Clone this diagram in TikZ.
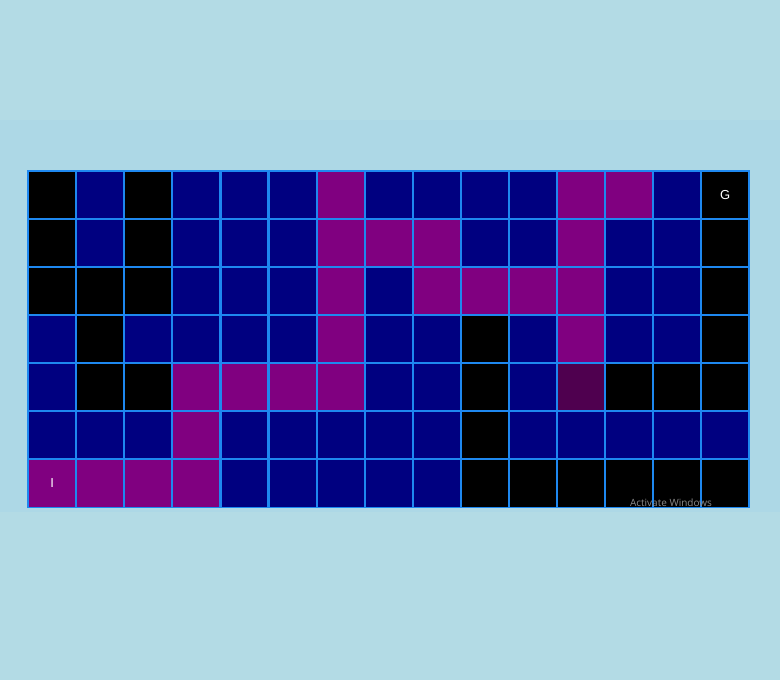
\documentclass[tikz,border=0pt]{standalone}
\usepackage{fontspec}
\setmainfont{Liberation Sans}
\newfontfamily\wmfont{Open Sans}
\definecolor{bandlight}{HTML}{B3DBE5}
\definecolor{bandmid}{HTML}{ADD8E6}
\definecolor{gridline}{HTML}{1E88F0}
\definecolor{cN}{HTML}{000080}
\definecolor{cP}{HTML}{800080}
\definecolor{cB}{HTML}{000000}
\definecolor{cD}{HTML}{4F004F}
\definecolor{wm}{HTML}{8C8C8C}
\begin{document}
\begin{tikzpicture}[x=1pt,y=-1pt,
  cell/.style={minimum width=48pt,minimum height=48pt,inner sep=0pt,anchor=north west},
  gridrule/.style={draw=gridline,line width=1.8pt},
  lbl/.style={text=white,font=\fontsize{13}{13}\selectfont}]
\useasboundingbox (0,0) rectangle (780,680);
\fill[bandlight] (0,0) rectangle (780,680);
\fill[bandmid] (0,120) rectangle (780,512);
\foreach \row [count=\r from 0] in {
  {B,N,B,N,N,N,P,N,N,N,N,P,P,N,B},
  {B,N,B,N,N,N,P,P,P,N,N,P,N,N,B},
  {B,B,B,N,N,N,P,N,P,P,P,P,N,N,B},
  {N,B,N,N,N,N,P,N,N,B,N,P,N,N,B},
  {N,B,B,P,P,P,P,N,N,B,N,D,B,B,B},
  {N,N,N,P,N,N,N,N,N,B,N,N,N,N,N},
  {P,P,P,P,N,N,N,N,N,B,B,B,B,B,B}}{
  \foreach \c [count=\k from 0] in \row {
    \node[cell,fill=c\c] (g-\r-\k) at ({28+48.07*\k},{171+48*\r}) {};
  }
}
\foreach \r in {0,...,6}{
  \foreach \k in {0,...,14}{
    \draw[gridrule] (g-\r-\k.north west) rectangle (g-\r-\k.south east);
  }
}
\node[lbl] (goal) at (g-0-14.center) {G};
\node[lbl] (init) at (g-6-0.center) {I};
\node[text=wm,font=\wmfont\fontsize{10}{10}\selectfont,anchor=base] (watermark) at (671,506) {Activate Windows};
\end{tikzpicture}
\end{document}
